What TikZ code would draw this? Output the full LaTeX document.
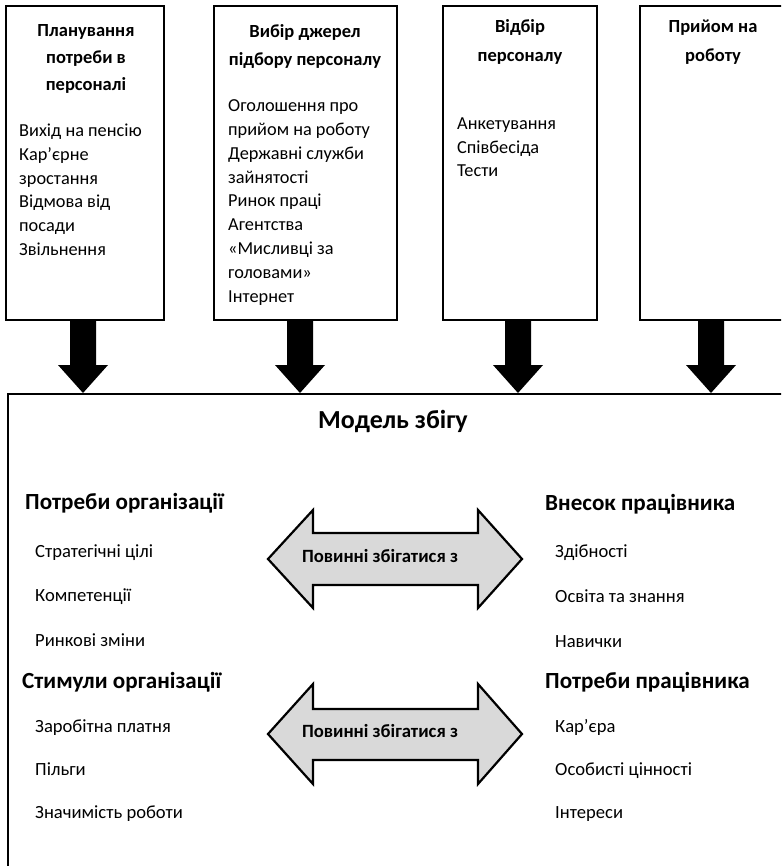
\documentclass[tikz,border=0pt]{standalone}
\usepackage{fontspec}
\setmainfont{Carlito}
\begin{document}
\begin{tikzpicture}[x=1pt,y=-1pt,
  box/.style={draw=black, line width=2pt, rectangle, inner sep=0pt},
  ttl/.style={anchor=base, inner sep=0pt, font=\fontsize{18.5}{22}\selectfont\bfseries},
  itm/.style={anchor=base west, inner sep=0pt, font=\fontsize{18.3}{22}\selectfont},
  hdr/.style={anchor=base west, inner sep=0pt, font=\fontsize{23.1}{27}\selectfont\bfseries},
  sub/.style={anchor=base west, inner sep=0pt, font=\fontsize{18.6}{22}\selectfont},
  blk/.style={fill=black},
  dbl/.style={draw=black, line width=2.2pt, fill=gray!30, line join=miter},
  lbl/.style={inner sep=0pt, font=\fontsize{18.7}{22}\selectfont\bfseries}]
\useasboundingbox (0,0) rectangle (781,866);
\clip (0,0) rectangle (781,866);
\fill[white] (0,0) rectangle (781,866);

% top boxes
\node[box, minimum width=158, minimum height=314] (b1) at (85,163) {};
\node[box, minimum width=183, minimum height=314] (b2) at (305.5,163) {};
\node[box, minimum width=154, minimum height=314] (b3) at (520,163) {};
\node[box, minimum width=155, minimum height=314] (b4) at (717.5,163) {};

% big box
\node[box, minimum width=800, minimum height=500, anchor=north west] (big) at (7,393) {};

% titles of top boxes
\node[ttl] (t11) at (86,37) {Планування};
\node[ttl] (t12) at (86,64) {потреби в};
\node[ttl] (t13) at (86,91) {персоналі};
\node[ttl] (t21) at (305,38) {Вибір джерел};
\node[ttl] (t22) at (305,66) {підбору персоналу};
\node[ttl] (t31) at (520,33) {Відбір};
\node[ttl] (t32) at (520,62) {персоналу};
\node[ttl] (t41) at (713,33) {Прийом на};
\node[ttl] (t42) at (713,62) {роботу};

% items box 1
\foreach \t [count=\i from 0] in {Вихід на пенсію, Кар’єрне, зростання, Відмова від, посади, Звільнення}
  \node[itm] (i1\i) at (19,{137+23.6*\i}) {\t};
% items box 2
\foreach \t [count=\i from 0] in {Оголошення про, прийом на роботу, Державні служби, зайнятості, Ринок праці, Агентства, «Мисливці за, головами», Інтернет}
  \node[itm] (i2\i) at (228,{112+23.75*\i}) {\t};
% items box 3
\foreach \t [count=\i from 0] in {Анкетування, Співбесіда, Тести}
  \node[itm] (i3\i) at (457,{130+23.5*\i}) {\t};

% block arrows down
\foreach \x in {83,300,518,711}
  \fill[blk] ({\x-13},319) -- ({\x+13},319) -- ({\x+13},365) -- ({\x+25},365)
     -- (\x,393) -- ({\x-25},365) -- ({\x-13},365) -- cycle;

% model title
\node[anchor=base, inner sep=0pt, font=\fontsize{26}{30}\selectfont\bfseries] (mt) at (393,428) {Модель збігу};

% left column
\node[hdr] (h1) at (25,509) {Потреби організації};
\node[sub] (l1) at (35,557) {Стратегічні цілі};
\node[sub] (l2) at (35,601.5) {Компетенції};
\node[sub] (l3) at (35,646) {Ринкові зміни};
\node[hdr] (h2) at (22,688) {Стимули організації};
\node[sub] (l4) at (35,732) {Заробітна платня};
\node[sub] (l5) at (35,775) {Пільги};
\node[sub] (l6) at (35,818) {Значимість роботи};

% right column
\node[hdr] (h3) at (545,510) {Внесок працівника};
\node[sub] (r1) at (555,557) {Здібності};
\node[sub] (r2) at (555,602) {Освіта та знання};
\node[sub] (r3) at (555,647) {Навички};
\node[hdr] (h4) at (545,688) {Потреби працівника};
\node[sub] (r4) at (555,732) {Кар’єра};
\node[sub] (r5) at (555,775) {Особисті цінності};
\node[sub] (r6) at (555,818) {Інтереси};

% double arrows
\draw[dbl] (268,559) -- (313,510) -- (313,533) -- (478,533) -- (478,510) -- (522,559)
  -- (478,608) -- (478,585) -- (313,585) -- (313,608) -- cycle;
\node[lbl] (m1) at (380,556) {Повинні збігатися з};
\draw[dbl] (268,734) -- (313,684) -- (313,709) -- (478,709) -- (478,684) -- (522,734)
  -- (478,784) -- (478,760) -- (313,760) -- (313,784) -- cycle;
\node[lbl] (m2) at (380,731) {Повинні збігатися з};
\end{tikzpicture}
\end{document}
